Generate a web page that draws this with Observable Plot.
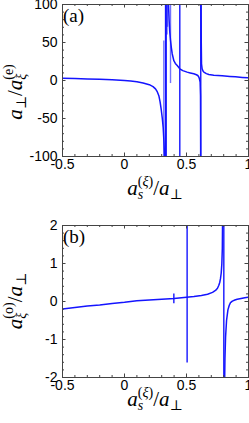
<!DOCTYPE html>
<html><head><meta charset="utf-8">
<script src="https://cdn.jsdelivr.net/npm/d3@7"></script>
<script src="https://cdn.jsdelivr.net/npm/@observablehq/plot@0.6"></script>
<style>body{margin:0;background:#fff} svg{display:block}</style>
</head><body><div id="c"></div>
<script>
// ---------- data ----------
const xTicks = [-0.5, 0, 0.5, 1];
const xMinor = [-0.5,-0.4,-0.3,-0.2,-0.1,0,0.1,0.2,0.3,0.4,0.5,0.6,0.7,0.8,0.9,1];

// panel (a)
const aTicks = [-100, -50, 0, 50, 100];
const aMinor = [-90,-80,-70,-60,-50,-40,-30,-20,-10,0,10,20,30,40,50,60,70,80,90];
const a1X = [-0.5,-0.4,-0.3,-0.2,-0.1,0,0.05,0.1,0.15,0.2,0.23,0.25,0.265,0.277,0.287,0.296,0.305,0.312,0.318,0.323,0.326];
const a1Y = [3.0,2.6,2.1,1.6,0.9,0.0,-0.7,-1.6,-3.2,-5.5,-8,-11,-15,-20,-28,-38,-50,-62,-80,-100,-130];
const a2X = [0.350,0.353,0.355,0.360,0.365,0.371,0.378,0.385,0.398,0.41,0.425,0.446,0.47,0.505,0.53,0.559,0.58,0.591,0.598,0.602,0.606,0.610,0.613,0.615];
const a2Y = [140,115,99,79,64,53,43,35,26,22.5,19.7,15.4,13,11,10,8.8,7.6,6.6,5,3.5,1,-2.2,-20,-140];
const a3X = [0.617,0.619,0.621,0.626,0.633,0.64,0.66,0.68,0.72,0.788,0.85,0.895,0.95,1.0];
const a3Y = [140,50,22,15.4,12.5,11,9,7.9,7,6.1,5.4,4.8,4.1,3.5];
const aRuleX  = [0.317,0.331,0.336,0.343,0.347,0.371,0.446,0.615];
const aRuleY1 = [-100,-100,-100,60,70,-4,-100,-100];
const aRuleY2 = [52,100,100,100,100,100,100,100];
const aRuleOp = [0.6,1,1,0.6,0.6,0.6,1,1];

// panel (b)
const bTicks = [-2, -1, 0, 1, 2];
const bMinor = [-1.8,-1.6,-1.4,-1.2,-1,-0.8,-0.6,-0.4,-0.2,0,0.2,0.4,0.6,0.8,1,1.2,1.4,1.6,1.8];
const b1X = [-0.5,-0.4,-0.3,-0.2,-0.1,0,0.1,0.2,0.3,0.4,0.5,0.56,0.62,0.67,0.71,0.734,0.75,0.76,0.768,0.774,0.78,0.785,0.789,0.792];
const b1Y = [-0.2,-0.16,-0.12,-0.09,-0.05,-0.02,0.02,0.04,0.06,0.08,0.11,0.13,0.16,0.19,0.24,0.29,0.35,0.42,0.5,0.6,0.75,0.99,1.4,2.5];
const b2X = [0.806,0.81,0.815,0.823,0.834,0.845,0.855,0.87,0.89,0.909,0.94,0.97,1.0];
const b2Y = [-2.5,-1.5,-0.94,-0.5,-0.22,-0.1,-0.03,0.01,0.04,0.06,0.08,0.1,0.11];
const bRuleX  = [0.398,0.505,0.801];
const bRuleY1 = [-0.06,-1.62,-2];
const bRuleY2 = [0.2,2,2];
const bRuleOp = [1,1,1];

// ---------- helpers ----------
const BLUE = "#1414ff";
const FRAME = "#444";
function toRows(xs, ys, b) { return xs.map((x, i) => ({x, y: ys[i], b})); }

function panel({height, mt, mb, ydom, yTicks, yMinor, branches, rx, ry1, ry2, rop}) {
  const ih = height - mt - mb;
  const iw = 249 - 62 - 1;
  const data = branches.flat();
  const rules = rx.map((x, i) => ({x, y1: ry1[i], y2: ry2[i], op: rop[i]}));
  return Plot.plot({
    width: 249, height,
    marginTop: mt, marginBottom: mb, marginLeft: 62, marginRight: 1,
    x: {domain: [-0.5, 1]},
    y: {domain: ydom},
    style: {fontFamily: "'Liberation Sans', Arial, sans-serif", fontSize: "14px", color: "#000", background: "#fff"},
    marks: [
      Plot.ruleX(rules, {x: "x", y1: "y1", y2: "y2", stroke: BLUE, strokeWidth: 1.4, strokeOpacity: "op", clip: true}),
      Plot.line(data, {x: "x", y: "y", z: "b", stroke: BLUE, strokeWidth: 1.5, clip: true}),
      // inward ticks: bottom/top
      Plot.ruleX(xMinor, {insetTop: ih - 2, stroke: FRAME}),
      Plot.ruleX(xMinor, {insetBottom: ih - 2, stroke: FRAME}),
      Plot.ruleX(xTicks, {insetTop: ih - 3.5, stroke: FRAME}),
      Plot.ruleX(xTicks, {insetBottom: ih - 3.5, stroke: FRAME}),
      // inward ticks: left/right
      Plot.ruleY(yMinor, {insetRight: iw - 2, stroke: FRAME}),
      Plot.ruleY(yMinor, {insetLeft: iw - 2, stroke: FRAME}),
      Plot.ruleY(yTicks, {insetRight: iw - 3.5, stroke: FRAME}),
      Plot.ruleY(yTicks, {insetLeft: iw - 3.5, stroke: FRAME}),
      Plot.axisX({ticks: xTicks, tickSize: 0, tickPadding: 3, label: null, tickFormat: d => String(d)}),
      Plot.axisY({ticks: yTicks, tickSize: 0, tickPadding: 5, label: null, tickFormat: d => String(d)}),
      Plot.frame({stroke: FRAME, strokeWidth: 1})
    ]
  });
}

function addText(svg, x, y, rotate, anchor, parts) {
  const t = d3.select(svg).append("text")
    .attr("transform", `translate(${x},${y})` + (rotate ? ` rotate(${rotate})` : ""))
    .attr("text-anchor", anchor)
    .attr("font-family", "'Liberation Serif', 'DejaVu Serif', serif")
    .attr("fill", "#000");
  for (const p of parts) {
    const s = t.append("tspan").text(p.t)
      .attr("font-size", p.s || 21)
      .attr("font-style", p.i ? "italic" : "normal");
    if (p.dx) s.attr("dx", p.dx);
    if (p.dy) s.attr("dy", p.dy);
  }
  return t;
}

const xLabelParts = [
  {t: "a", i: true},
  {t: "s", i: true, s: 14, dy: 4},
  {t: "(", s: 14, dx: -5.5, dy: -13},
  {t: "ξ", i: true, s: 14},
  {t: ")", s: 14},
  {t: "/", dy: 9},
  {t: "a", i: true},
  {t: "⊥", s: 14, dy: 4}
];

// ---------- panel (a) ----------
const svgA = panel({
  height: 210, mt: 4, mb: 54, ydom: [-100, 100], yTicks: aTicks, yMinor: aMinor,
  branches: [toRows(a1X, a1Y, 1), toRows(a2X, a2Y, 2), toRows(a3X, a3Y, 3)],
  rx: aRuleX, ry1: aRuleY1, ry2: aRuleY2, rop: aRuleOp
});
addText(svgA, 63, 22, 0, "start", [{t: "(a)", s: 19}]);
addText(svgA, 155, 195, 0, "middle", xLabelParts);
addText(svgA, 22, 92, -90, "middle", [
  {t: "a", i: true},
  {t: "⊥", s: 14, dy: 4},
  {t: "/", dy: -4},
  {t: "a", i: true},
  {t: "ξ", i: true, s: 14, dy: 4},
  {t: "(", s: 14, dx: -6, dy: -13},
  {t: "e", s: 14},
  {t: ")", s: 14}
]);

// ---------- panel (b) ----------
const svgB = panel({
  height: 213, mt: 15, mb: 46, ydom: [-2, 2], yTicks: bTicks, yMinor: bMinor,
  branches: [toRows(b1X, b1Y, 1), toRows(b2X, b2Y, 2)],
  rx: bRuleX, ry1: bRuleY1, ry2: bRuleY2, rop: bRuleOp
});
addText(svgB, 63, 33, 0, "start", [{t: "(b)", s: 19}]);
addText(svgB, 155, 196, 0, "middle", xLabelParts);
addText(svgB, 22, 91, -90, "middle", [
  {t: "a", i: true},
  {t: "ξ", i: true, s: 14, dy: 4},
  {t: "(", s: 14, dx: -6, dy: -13},
  {t: "o", s: 14},
  {t: ")", s: 14},
  {t: "/", dy: 9},
  {t: "a", i: true},
  {t: "⊥", s: 14, dy: 4}
]);

const c = document.getElementById("c");
c.appendChild(svgA);
c.appendChild(svgB);
</script>
</body></html>
